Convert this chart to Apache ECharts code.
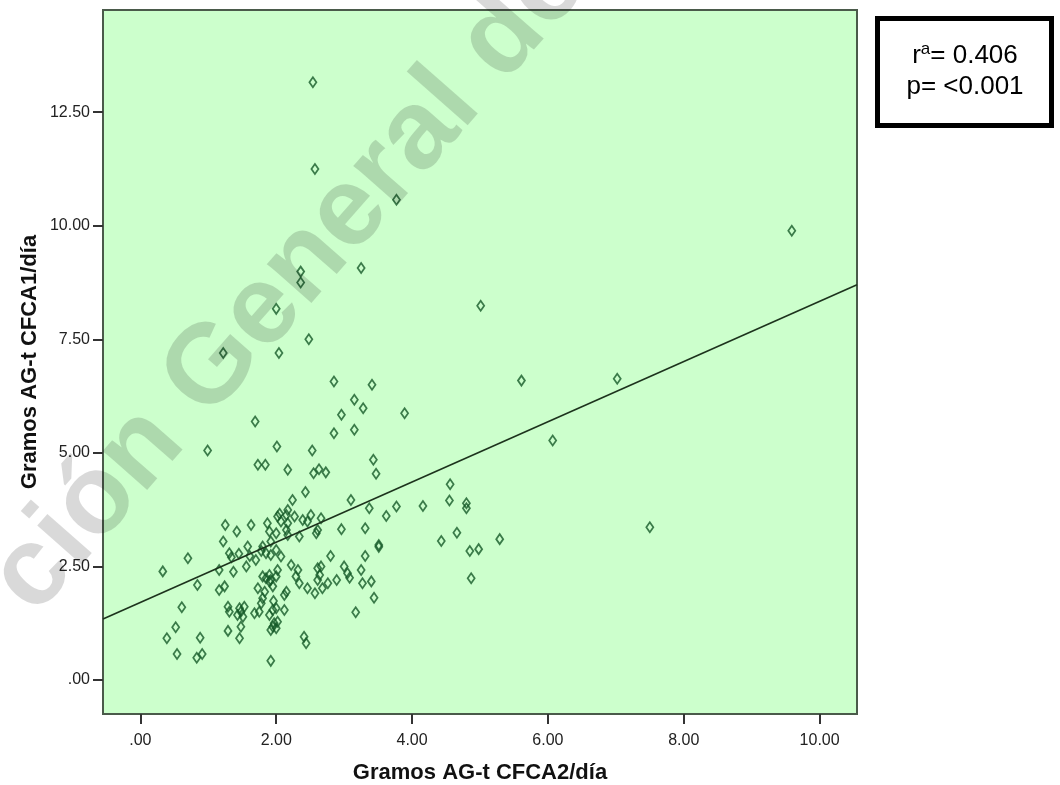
<!DOCTYPE html>
<html>
<head>
<meta charset="utf-8">
<title>Gramos AG-t CFCA1/día vs CFCA2/día</title>
<script src="https://cdn.jsdelivr.net/npm/echarts@6/dist/echarts.min.js"></script>
<style>
  html, body { margin: 0; padding: 0; background: #ffffff; }
  #chart { width: 1060px; height: 785px; }
</style>
</head>
<body>
<div id="chart"></div>
<script>
// Gramos AG-t CFCA2/día (horizontal) for each subject
const gramosCFCA2 = [
  2.54, 2.57, 3.77, 2.36, 2.36, 3.25, 9.59, 5.01, 2.00, 2.48,
  1.22, 2.04, 2.85, 3.41, 3.15, 3.28, 2.96, 3.89, 1.69, 2.85,
  3.15, 0.99, 2.01, 2.53, 1.73, 1.84, 2.17, 2.55, 2.63, 2.73,
  3.43, 3.47, 2.43, 2.24, 3.10, 5.61, 7.02, 6.07, 4.56, 4.55,
  3.37, 3.77, 3.62, 4.16, 4.80, 4.80, 4.43, 4.66, 4.85, 4.98,
  5.29, 7.50, 4.87, 3.51, 3.51, 2.96, 3.31, 2.80, 3.31, 3.00,
  3.05, 3.25, 2.89, 3.08, 3.27, 3.40, 3.44, 3.17,
  2.17, 2.15, 2.02, 2.07, 2.17, 2.27, 2.39, 2.46, 2.51, 2.66,
  2.15, 2.17, 2.00, 2.34, 2.59, 2.61, 1.87, 1.90, 2.05, 1.25,
  1.42, 1.63, 1.22, 1.31, 1.34, 1.45, 1.58, 1.61, 1.70, 1.56,
  1.16, 1.80, 1.85, 1.92, 2.00, 1.80, 1.90, 0.33, 0.70, 2.07,
  2.22, 2.32, 2.29, 2.61, 2.66, 2.64, 2.02, 2.00, 1.37, 1.78,
  1.92,
  2.34, 2.46, 2.57, 2.68, 2.61, 2.76, 2.15, 2.12, 2.12, 2.02,
  2.00, 2.41, 2.44, 0.84, 0.61, 0.52, 0.39, 0.88, 0.54, 0.83,
  0.91, 1.16, 1.24, 1.29, 1.31, 1.29, 1.46, 1.43, 1.48, 1.51,
  1.46, 1.53, 1.48, 1.68, 1.75, 1.73, 1.83, 1.80, 1.78, 1.85,
  1.90, 1.95, 1.92, 1.90, 1.95, 2.00, 1.95, 1.92, 1.97, 1.92,
  1.96
];

// Gramos AG-t CFCA1/día (vertical), same subject order
const gramosCFCA1 = [
  13.16, 11.25, 10.57, 8.99, 8.75, 9.07, 9.89, 8.24, 8.17, 7.50,
  7.20, 7.20, 6.57, 6.50, 6.17, 5.98, 5.84, 5.87, 5.69, 5.43,
  5.51, 5.05, 5.14, 5.05, 4.74, 4.74, 4.63, 4.55, 4.64, 4.57,
  4.85, 4.54, 4.14, 3.96, 3.96, 6.59, 6.63, 5.27, 4.31, 3.95,
  3.78, 3.82, 3.61, 3.83, 3.89, 3.78, 3.06, 3.24, 2.84, 2.88,
  3.10, 3.36, 2.24, 2.97, 2.93, 3.32, 3.34, 2.73, 2.73, 2.50,
  2.35, 2.42, 2.20, 2.25, 2.13, 2.17, 1.81, 1.49,
  3.74, 3.63, 3.60, 3.49, 3.45, 3.60, 3.52, 3.49, 3.63, 3.56,
  3.30, 3.19, 3.23, 3.16, 3.23, 3.30, 3.45, 3.27, 3.66, 3.41,
  3.27, 3.41, 3.05, 2.79, 2.70, 2.78, 2.94, 2.73, 2.64, 2.50,
  2.42, 2.94, 2.79, 2.75, 2.86, 2.28, 2.31, 2.39, 2.68, 2.72,
  2.53, 2.42, 2.28, 2.46, 2.50, 2.31, 2.42, 2.28, 2.38, 2.84,
  3.05,
  2.13, 2.02, 1.91, 2.02, 2.20, 2.13, 1.94, 1.87, 1.54, 1.28,
  1.14, 0.95, 0.81, 2.09, 1.60, 1.16, 0.92, 0.93, 0.57, 0.49,
  0.57, 1.98, 2.06, 1.61, 1.50, 1.08, 0.92, 1.43, 1.50, 1.39,
  1.58, 1.61, 1.17, 1.47, 1.50, 2.02, 1.94, 1.80, 1.69, 2.24,
  2.17, 2.06, 2.20, 1.43, 1.54, 1.58, 1.17, 1.10, 1.25, 0.42,
  1.74
];

// Fitted line, end points at the edges of the plot
const fitX = [-0.55, 10.55];
const fitY = [1.34, 8.70];

// Axis ticks
const xTicks = [0, 2, 4, 6, 8, 10];
const yTicks = [0, 2.5, 5, 7.5, 10, 12.5];

// Statistics box
const statR = '0.406';
const statP = '<0.001';

const xTitle = 'Gramos AG-t CFCA2/día';
const yTitle = 'Gramos AG-t CFCA1/día';
const watermark = 'ción General de';

const FONT = 'Arial, "Liberation Sans", sans-serif';
const fmt = v => (v === 0 ? '.00' : v.toFixed(2));

const points = gramosCFCA2.map((x, i) => [x, gramosCFCA1[i]]);
const fitData = fitX.map((x, i) => [x, fitY[i]]);

const chart = echarts.init(document.getElementById('chart'), null, { renderer: 'canvas' });

chart.setOption({
  animation: false,
  backgroundColor: '#ffffff',
  grid: {
    left: 103, right: 203, top: 10, bottom: 71,
    show: true,
    backgroundColor: '#ccffcc',
    borderColor: '#4a5a4a',
    borderWidth: 2
  },
  xAxis: {
    type: 'value',
    min: -0.55, max: 10.55,
    axisLine: { show: false, onZero: false },
    splitLine: { show: false },
    axisTick: { show: true, length: 10, customValues: xTicks, lineStyle: { color: '#333', width: 2 } },
    axisLabel: { customValues: xTicks, formatter: fmt, margin: 19, fontSize: 16, color: '#222', fontFamily: FONT }
  },
  yAxis: {
    type: 'value',
    min: -0.75, max: 14.75,
    axisLine: { show: false, onZero: false },
    splitLine: { show: false },
    axisTick: { show: true, length: 10, customValues: yTicks, lineStyle: { color: '#333', width: 2 } },
    axisLabel: { customValues: yTicks, formatter: fmt, margin: 13, fontSize: 16, color: '#222', fontFamily: FONT }
  },
  series: [
    {
      type: 'scatter',
      data: points,
      symbol: 'diamond',
      symbolSize: [7, 10],
      itemStyle: { color: 'rgba(0,0,0,0)', borderColor: '#155a28', borderWidth: 1.8 },
      z: 3
    },
    {
      type: 'line',
      data: fitData,
      symbol: 'none',
      lineStyle: { color: '#1d331d', width: 1.6 },
      z: 4
    }
  ],
  graphic: [
    {
      type: 'text',
      x: 480, y: 773,
      style: { text: xTitle, font: 'bold 22px ' + FONT, fill: '#111', align: 'center', verticalAlign: 'middle' }
    },
    {
      type: 'text',
      x: 30, y: 362,
      rotation: Math.PI / 2,
      style: { text: yTitle, font: 'bold 22px ' + FONT, fill: '#111', align: 'center', verticalAlign: 'middle' }
    },
    {
      type: 'rect',
      shape: { x: 877.5, y: 18.5, width: 174, height: 107 },
      style: { fill: '#ffffff', stroke: '#000000', lineWidth: 5 }
    },
    {
      type: 'text',
      x: 965, y: 56,
      style: {
        text: '{m|r}{s|a}{m|= ' + statR + '}',
        align: 'center', verticalAlign: 'middle',
        rich: {
          m: { fontSize: 26, fontFamily: FONT, fill: '#000', lineHeight: 30 },
          s: { fontSize: 17, fontFamily: FONT, fill: '#000', verticalAlign: 'top' }
        }
      }
    },
    {
      type: 'text',
      x: 965, y: 87,
      style: { text: 'p= ' + statP, font: '26px ' + FONT, fill: '#000', align: 'center', verticalAlign: 'middle' }
    },
    {
      type: 'text',
      x: -30, y: 560,
      rotation: 0.85,
      silent: true,
      z: 100,
      style: { text: watermark, font: 'bold 112px ' + FONT, fill: 'rgba(0,0,0,0.15)', align: 'left', verticalAlign: 'alphabetic' }
    }
  ]
});
</script>
</body>
</html>
